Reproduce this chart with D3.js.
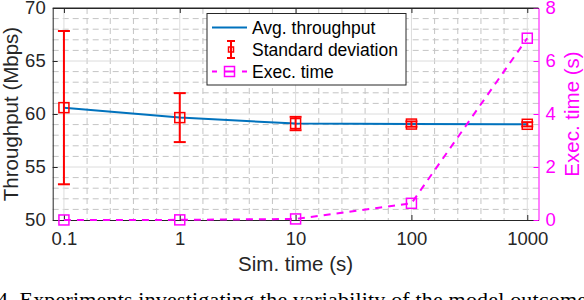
<!DOCTYPE html>
<html>
<head>
<meta charset="utf-8">
<script src="https://cdn.jsdelivr.net/npm/d3@7"></script>
<style>
  body { margin: 0; background: #fff; }
  svg { display: block; font-family: "Liberation Sans", Arial, Helvetica, sans-serif; }
</style>
</head>
<body>
<svg id="chart" width="584" height="300"></svg>
<script>
// Simulation time vs. throughput (left axis) and execution time (right axis)
const simTimes = [0.1, 1, 10, 100, 1000];
const avgThroughput = [60.6, 59.66, 59.1, 59.05, 59.03];
const stdThroughput = [7.23, 2.31, 0.63, 0.25, 0.2];
const execTime = [0.001, 0.005, 0.04, 0.63, 6.86];

const xTicks = [0.1, 1, 10, 100, 1000];
const xTickLabels = ['0.1', '1', '10', '100', '1000'];
const yLeftTicks = [50, 55, 60, 65, 70];
const yRightTicks = [0, 2, 4, 6, 8];
const legendLabels = ['Avg. throughput', 'Standard deviation', 'Exec. time'];

const MAGENTA = '#ff00ff';
const RED = '#ff0000';
const BLUE = '#0072bd';
const AXIS = '#262626';

const margin = {top: 8, right: 45.5, bottom: 80, left: 52.7};
const width = 584 - margin.left - margin.right;
const height = 300 - margin.top - margin.bottom;

const svg = d3.select('#chart');
const g = svg.append('g').attr('transform', `translate(${margin.left},${margin.top})`);

const x = d3.scaleLog().domain([0.08, 1250]).range([0, width]);
const yL = d3.scaleLinear().domain([50, 70]).range([height, 0]);
const yR = d3.scaleLinear().domain([0, 8]).range([height, 0]);

// grid: minor dashed, major solid
const minorX = [];
xTicks.forEach(d => [0.2, 0.4, 0.6, 0.8].forEach(k => {
    const v = d * Math.pow(10, k);
    if (v < 1250) minorX.push(v);
}));
const minorY = d3.range(51, 70).filter(v => v % 5 !== 0);

const grid = g.append('g');
grid.selectAll('line.mx').data(minorX).enter().append('line')
    .attr('x1', d => x(d)).attr('x2', d => x(d))
    .attr('y1', 0).attr('y2', height)
    .attr('stroke', '#c4c4c4').attr('stroke-dasharray', '6,4');
grid.selectAll('line.my').data(minorY).enter().append('line')
    .attr('x1', 0).attr('x2', width)
    .attr('y1', d => yL(d)).attr('y2', d => yL(d))
    .attr('stroke', '#c4c4c4').attr('stroke-dasharray', '6,4');
grid.selectAll('line.gx').data(xTicks).enter().append('line')
    .attr('x1', d => x(d)).attr('x2', d => x(d))
    .attr('y1', 0).attr('y2', height)
    .attr('stroke', '#dcdcdc');
grid.selectAll('line.gy').data(yLeftTicks.slice(1, -1)).enter().append('line')
    .attr('x1', 0).attr('x2', width)
    .attr('y1', d => yL(d)).attr('y2', d => yL(d))
    .attr('stroke', '#dcdcdc');

// Axes (ticks point inward)
const fmt = d => xTickLabels[xTicks.indexOf(d)];

const xAxis = g.append('g')
    .attr('transform', `translate(0,${height})`)
    .call(d3.axisBottom(x).tickValues(xTicks).tickFormat(fmt).tickSize(-5).tickSizeOuter(0).tickPadding(12));
const topAxis = g.append('g')
    .call(d3.axisTop(x).tickValues(xTicks).tickFormat('').tickSize(-5).tickSizeOuter(0));
const yAxisL = g.append('g')
    .call(d3.axisLeft(yL).tickValues(yLeftTicks).tickSize(-5).tickSizeOuter(0).tickPadding(7));
const yAxisR = g.append('g')
    .attr('transform', `translate(${width},0)`)
    .call(d3.axisRight(yR).tickValues(yRightTicks).tickSize(-5).tickSizeOuter(0).tickPadding(7));

[xAxis, topAxis, yAxisL].forEach(a => {
    a.select('.domain').attr('stroke', AXIS);
    a.selectAll('.tick line').attr('stroke', AXIS);
    a.selectAll('text').attr('fill', AXIS).style('font-size', '18.5px')
        .style('font-family', '"Liberation Sans", Arial, sans-serif');
});
yAxisR.select('.domain').attr('stroke', MAGENTA);
yAxisR.selectAll('.tick line').attr('stroke', MAGENTA);
yAxisR.selectAll('text').attr('fill', MAGENTA).style('font-size', '18.5px')
    .style('font-family', '"Liberation Sans", Arial, sans-serif');

// Avg throughput line
const pts = simTimes.map((t, i) => ({t, avg: avgThroughput[i], sd: stdThroughput[i], exec: execTime[i]}));

g.append('path')
    .datum(pts)
    .attr('fill', 'none')
    .attr('stroke', BLUE)
    .attr('stroke-width', 2)
    .attr('d', d3.line().x(d => x(d.t)).y(d => yL(d.avg)));

// Error bars
const eb = g.append('g').selectAll('g').data(pts).enter().append('g');
eb.append('line')
    .attr('x1', d => x(d.t)).attr('x2', d => x(d.t))
    .attr('y1', d => yL(d.avg - d.sd)).attr('y2', d => yL(d.avg + d.sd))
    .attr('stroke', RED).attr('stroke-width', 2);
[-1, 1].forEach(s => {
    eb.append('line')
        .attr('x1', d => x(d.t) - 6).attr('x2', d => x(d.t) + 6)
        .attr('y1', d => yL(d.avg + s * d.sd)).attr('y2', d => yL(d.avg + s * d.sd))
        .attr('stroke', RED).attr('stroke-width', 2);
});
eb.append('rect')
    .attr('x', d => x(d.t) - 5).attr('y', d => yL(d.avg) - 5)
    .attr('width', 10).attr('height', 10)
    .attr('fill', 'none').attr('stroke', RED).attr('stroke-width', 1.5);

// Exec time (right axis)
g.append('path')
    .datum(pts)
    .attr('fill', 'none')
    .attr('stroke', MAGENTA)
    .attr('stroke-width', 2)
    .attr('stroke-dasharray', '7,6')
    .attr('d', d3.line().x(d => x(d.t)).y(d => yR(d.exec)));

g.append('g').selectAll('rect').data(pts).enter().append('rect')
    .attr('x', d => x(d.t) - 5).attr('y', d => yR(d.exec) - 5)
    .attr('width', 10).attr('height', 10)
    .attr('fill', 'none').attr('stroke', MAGENTA).attr('stroke-width', 1.5);

// top border line
g.append('line').attr('x1', 0).attr('x2', width).attr('y1', 0).attr('y2', 0).attr('stroke', AXIS);

// Axis labels
svg.append('text')
    .attr('x', margin.left + width / 2).attr('y', 271)
    .attr('text-anchor', 'middle')
    .attr('fill', AXIS).style('font-size', '20.5px')
    .text('Sim. time (s)');
svg.append('text')
    .attr('transform', `translate(18,${margin.top + height / 2}) rotate(-90)`)
    .attr('text-anchor', 'middle')
    .attr('fill', AXIS).style('font-size', '20.5px')
    .text('Throughput (Mbps)');
svg.append('text')
    .attr('transform', `translate(579,${margin.top + height / 2}) rotate(-90)`)
    .attr('text-anchor', 'middle')
    .attr('fill', MAGENTA).style('font-size', '20.5px')
    .text('Exec. time (s)');

// Legend
const legend = svg.append('g').attr('transform', 'translate(207,13.5)');
legend.append('rect')
    .attr('width', 199).attr('height', 71.5)
    .attr('fill', '#fff').attr('stroke', AXIS).attr('stroke-width', 1);
const rowY = [14, 36, 58];
legendLabels.forEach((lab, i) => {
    legend.append('text')
        .attr('x', 45).attr('y', rowY[i] + 6.5)
        .attr('fill', '#000').style('font-size', '17.5px')
        .text(lab);
});
legend.append('line')
    .attr('x1', 5).attr('x2', 40).attr('y1', rowY[0]).attr('y2', rowY[0])
    .attr('stroke', BLUE).attr('stroke-width', 2);
const ic = legend.append('g').attr('transform', `translate(24,${rowY[1]})`);
ic.append('line').attr('x1', 0).attr('x2', 0).attr('y1', -8.5).attr('y2', 8.5).attr('stroke', RED).attr('stroke-width', 2);
ic.append('line').attr('x1', -4).attr('x2', 4).attr('y1', -8.5).attr('y2', -8.5).attr('stroke', RED).attr('stroke-width', 2);
ic.append('line').attr('x1', -4).attr('x2', 4).attr('y1', 8.5).attr('y2', 8.5).attr('stroke', RED).attr('stroke-width', 2);
ic.append('rect').attr('x', -2.5).attr('y', -2.5).attr('width', 5).attr('height', 5)
    .attr('fill', 'none').attr('stroke', RED).attr('stroke-width', 1.5);
legend.append('line')
    .attr('x1', 5).attr('x2', 40).attr('y1', rowY[2]).attr('y2', rowY[2])
    .attr('stroke', MAGENTA).attr('stroke-width', 2).attr('stroke-dasharray', '5,7,11,7,5');
legend.append('rect')
    .attr('x', 17.5).attr('y', rowY[2] - 5).attr('width', 10).attr('height', 10)
    .attr('fill', 'none').attr('stroke', MAGENTA).attr('stroke-width', 1.5);

// caption (mostly cut off at the bottom of the picture)
svg.append('text')
    .attr('x', -3).attr('y', 306.5)
    .attr('fill', '#000')
    .style('font-family', '"Liberation Serif", "Times New Roman", serif')
    .style('font-size', '22px')
    .attr('textLength', 590)
    .text('4.  Experiments investigating the variability of the model outcome');
</script>
</body>
</html>
